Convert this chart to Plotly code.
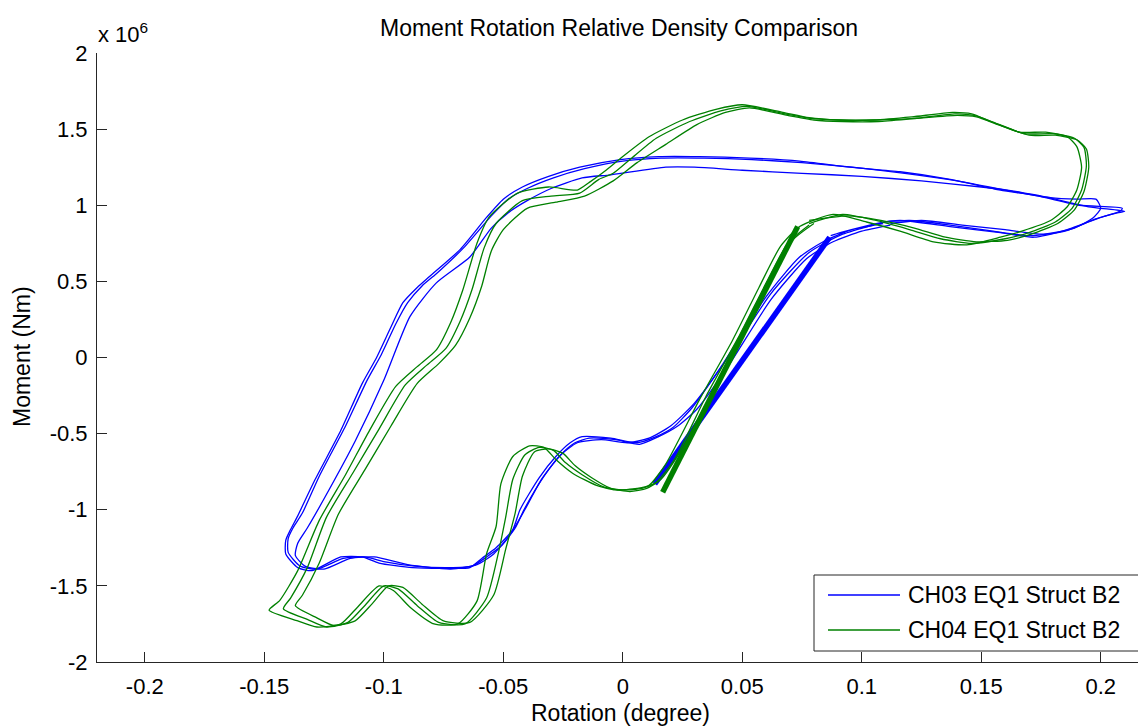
import plotly.graph_objects as go

# Rotation (degree) and moment (x 10^6 Nm) for each recorded loop
ch03_rot_1 = [0.087, 0.091, 0.106, 0.116, 0.137, 0.158, 0.172, 0.186, 0.200, 0.208, 0.209, 0.191, 0.174, 0.158, 0.137, 0.116, 0.095, 0.074, 0.053, 0.032, 0.015, -0.001, -0.018, -0.031, -0.042, -0.050, -0.057, -0.068, -0.081, -0.086, -0.092, -0.097, -0.103, -0.109, -0.118, -0.129, -0.136, -0.139, -0.141, -0.141, -0.136, -0.130, -0.118, -0.109, -0.102, -0.088, -0.074, -0.064, -0.059, -0.053, -0.046, -0.043, -0.035, -0.028, -0.022, -0.017, -0.005, 0.006, 0.014, 0.021, 0.029, 0.042, 0.060, 0.074, 0.085, 0.096, 0.109]
ch03_mom_1 = [0.80, 0.82, 0.88, 0.90, 0.86, 0.82, 0.79, 0.84, 0.92, 0.96, 0.98, 1.00, 1.06, 1.10, 1.17, 1.22, 1.25, 1.29, 1.31, 1.32, 1.32, 1.30, 1.25, 1.19, 1.12, 1.04, 0.92, 0.71, 0.53, 0.46, 0.36, 0.20, 0.00, -0.17, -0.48, -0.81, -1.04, -1.13, -1.20, -1.29, -1.38, -1.40, -1.31, -1.31, -1.35, -1.38, -1.385, -1.38, -1.32, -1.25, -1.13, -1.00, -0.79, -0.65, -0.56, -0.52, -0.53, -0.56, -0.52, -0.46, -0.33, -0.04, 0.40, 0.66, 0.77, 0.84, 0.88]

ch03_rot_2 = [0.109, 0.120, 0.137, 0.155, 0.170, 0.185, 0.198, 0.207, 0.210, 0.195, 0.178, 0.160, 0.140, 0.118, 0.096, 0.075, 0.054, 0.034, 0.016, 0.000, -0.016, -0.029, -0.040, -0.048, -0.055, -0.066, -0.078, -0.084, -0.090, -0.095, -0.101, -0.107, -0.116, -0.127, -0.134, -0.138, -0.140, -0.140, -0.135, -0.128, -0.117, -0.108, -0.100, -0.087, -0.073, -0.063, -0.057, -0.051, -0.045, -0.041, -0.033, -0.026, -0.020, -0.014, -0.003, 0.007, 0.015, 0.023, 0.031, 0.044, 0.062, 0.077, 0.088, 0.100, 0.112]
ch03_mom_2 = [0.89, 0.90, 0.87, 0.83, 0.80, 0.83, 0.91, 0.95, 0.96, 0.99, 1.05, 1.10, 1.16, 1.21, 1.25, 1.28, 1.30, 1.31, 1.31, 1.29, 1.24, 1.18, 1.11, 1.04, 0.93, 0.73, 0.55, 0.47, 0.36, 0.22, 0.02, -0.15, -0.45, -0.78, -1.02, -1.12, -1.19, -1.28, -1.37, -1.39, -1.32, -1.31, -1.34, -1.37, -1.38, -1.37, -1.31, -1.24, -1.12, -0.99, -0.78, -0.64, -0.56, -0.53, -0.54, -0.57, -0.52, -0.45, -0.34, -0.06, 0.38, 0.65, 0.76, 0.83, 0.87]

ch03_rot_3 = [0.112, 0.125, 0.142, 0.160, 0.175, 0.189, 0.197, 0.200, 0.198, 0.190, 0.179, 0.165, 0.150, 0.125, 0.100, 0.075, 0.050, 0.030, 0.018, -0.005, -0.017, -0.030, -0.040, -0.048, -0.055, -0.064, -0.078, -0.089, -0.100, -0.112, -0.124, -0.132, -0.136, -0.137, -0.133, -0.125, -0.114, -0.104, -0.090, -0.072, -0.061, -0.054, -0.047, -0.041, -0.034, -0.026, -0.019, -0.009, 0.002, 0.011, 0.020, 0.030, 0.045, 0.062, 0.078, 0.092, 0.105]
ch03_mom_3 = [0.88, 0.90, 0.87, 0.84, 0.81, 0.85, 0.92, 0.98, 1.04, 1.04, 1.05, 1.09, 1.12, 1.16, 1.19, 1.21, 1.23, 1.25, 1.25, 1.20, 1.18, 1.11, 1.03, 0.95, 0.85, 0.66, 0.49, 0.27, -0.15, -0.55, -0.90, -1.12, -1.22, -1.30, -1.37, -1.39, -1.32, -1.31, -1.36, -1.39, -1.36, -1.29, -1.16, -1.00, -0.80, -0.64, -0.56, -0.54, -0.56, -0.53, -0.45, -0.30, 0.02, 0.42, 0.69, 0.81, 0.87]

ch04_rot_1 = [0.074, 0.088, 0.102, 0.116, 0.130, 0.144, 0.158, 0.167, 0.179, 0.186, 0.190, 0.192, 0.190, 0.186, 0.177, 0.166, 0.154, 0.146, 0.138, 0.121, 0.105, 0.090, 0.078, 0.067, 0.050, 0.039, 0.025, 0.011, 0.000, -0.007, -0.014, -0.019, -0.031, -0.044, -0.056, -0.061, -0.067, -0.072, -0.078, -0.086, -0.095, -0.106, -0.116, -0.127, -0.136, -0.1435, -0.148, -0.136, -0.128, -0.118, -0.111, -0.102, -0.096, -0.089, -0.079, -0.069, -0.061, -0.057, -0.053, -0.051, -0.046, -0.039, -0.033, -0.028, -0.021, -0.011, -0.003, 0.006, 0.011, 0.018, 0.032, 0.046, 0.057, 0.066, 0.074]
ch04_mom_1 = [0.86, 0.94, 0.89, 0.83, 0.76, 0.74, 0.79, 0.83, 0.90, 0.99, 1.10, 1.25, 1.385, 1.45, 1.48, 1.48, 1.55, 1.60, 1.61, 1.58, 1.56, 1.56, 1.575, 1.61, 1.66, 1.63, 1.56, 1.45, 1.32, 1.23, 1.15, 1.10, 1.12, 1.08, 0.92, 0.75, 0.44, 0.23, 0.05, -0.06, -0.19, -0.48, -0.77, -1.07, -1.40, -1.595, -1.66, -1.73, -1.77, -1.75, -1.64, -1.50, -1.53, -1.64, -1.75, -1.75, -1.60, -1.29, -1.11, -0.83, -0.65, -0.58, -0.59, -0.67, -0.76, -0.84, -0.87, -0.86, -0.84, -0.70, -0.28, 0.115, 0.46, 0.73, 0.86]

ch04_rot_2 = [0.078, 0.092, 0.106, 0.120, 0.133, 0.146, 0.160, 0.170, 0.181, 0.188, 0.192, 0.194, 0.193, 0.189, 0.180, 0.168, 0.156, 0.147, 0.139, 0.122, 0.106, 0.091, 0.079, 0.068, 0.052, 0.041, 0.028, 0.014, 0.003, -0.004, -0.010, -0.018, -0.030, -0.042, -0.053, -0.058, -0.063, -0.068, -0.074, -0.082, -0.091, -0.102, -0.113, -0.124, -0.132, -0.139, -0.142, -0.132, -0.124, -0.115, -0.108, -0.100, -0.094, -0.086, -0.077, -0.066, -0.057, -0.052, -0.049, -0.046, -0.041, -0.035, -0.029, -0.024, -0.017, -0.008, 0.000, 0.008, 0.014, 0.022, 0.035, 0.049, 0.060, 0.069, 0.078]
ch04_mom_2 = [0.88, 0.94, 0.90, 0.84, 0.78, 0.75, 0.78, 0.82, 0.89, 0.98, 1.10, 1.26, 1.38, 1.44, 1.47, 1.47, 1.54, 1.59, 1.60, 1.57, 1.56, 1.56, 1.57, 1.60, 1.65, 1.62, 1.55, 1.44, 1.30, 1.21, 1.17, 1.08, 1.06, 1.03, 0.88, 0.72, 0.45, 0.24, 0.06, -0.05, -0.18, -0.47, -0.76, -1.05, -1.38, -1.58, -1.65, -1.72, -1.77, -1.74, -1.63, -1.50, -1.52, -1.63, -1.74, -1.75, -1.58, -1.28, -1.05, -0.80, -0.64, -0.59, -0.61, -0.69, -0.77, -0.85, -0.87, -0.86, -0.82, -0.66, -0.25, 0.15, 0.49, 0.75, 0.87]

ch04_rot_3 = [0.078, 0.094, 0.108, 0.122, 0.135, 0.148, 0.161, 0.171, 0.182, 0.189, 0.193, 0.195, 0.194, 0.190, 0.181, 0.170, 0.157, 0.148, 0.140, 0.123, 0.107, 0.092, 0.080, 0.069, 0.053, 0.043, 0.031, 0.018, 0.006, -0.004, -0.016, -0.028, -0.040, -0.050, -0.055, -0.059, -0.064, -0.070, -0.077, -0.086, -0.097, -0.108, -0.119, -0.127, -0.134, -0.137, -0.128, -0.121, -0.112, -0.105, -0.098, -0.092, -0.084, -0.075, -0.064, -0.054, -0.049, -0.045, -0.042, -0.037, -0.031, -0.025, -0.020, -0.013, -0.005, 0.003, 0.010, 0.016, 0.024, 0.038, 0.051, 0.062, 0.071, 0.080]
ch04_mom_3 = [0.90, 0.93, 0.90, 0.85, 0.79, 0.76, 0.77, 0.81, 0.88, 0.97, 1.09, 1.25, 1.37, 1.43, 1.46, 1.46, 1.53, 1.58, 1.59, 1.57, 1.55, 1.55, 1.56, 1.59, 1.64, 1.61, 1.53, 1.40, 1.28, 1.16, 1.06, 1.02, 0.98, 0.84, 0.70, 0.47, 0.26, 0.08, -0.04, -0.17, -0.45, -0.74, -1.03, -1.35, -1.56, -1.63, -1.71, -1.76, -1.73, -1.62, -1.50, -1.51, -1.62, -1.73, -1.74, -1.56, -1.26, -1.02, -0.78, -0.62, -0.60, -0.63, -0.71, -0.79, -0.86, -0.88, -0.86, -0.80, -0.62, -0.21, 0.19, 0.52, 0.77, 0.88]

# Initial elastic loading segments (densely repeated, drawn heavy)
ch03_init_rot = [0.0134, 0.0866]
ch03_init_mom = [-0.83, 0.79]
ch04_init_rot = [0.0167, 0.0732]
ch04_init_mom = [-0.885, 0.86]

x_ticks = [-0.2, -0.15, -0.1, -0.05, 0, 0.05, 0.1, 0.15, 0.2]
x_tick_text = ["-0.2", "-0.15", "-0.1", "-0.05", "0", "0.05", "0.1", "0.15", "0.2"]
y_ticks = [-2, -1.5, -1, -0.5, 0, 0.5, 1, 1.5, 2]
y_tick_text = ["-2", "-1.5", "-1", "-0.5", "0", "0.5", "1", "1.5", "2"]

BLUE = "#0000ff"
GREEN = "#008000"
AXIS = "#262626"
FONT = "Liberation Sans, Arial, sans-serif"
FS_TICK = 22
FS = 23

fig = go.Figure()

ch03_loops = [(ch03_rot_1, ch03_mom_1), (ch03_rot_2, ch03_mom_2), (ch03_rot_3, ch03_mom_3)]
ch04_loops = [(ch04_rot_1, ch04_mom_1), (ch04_rot_2, ch04_mom_2), (ch04_rot_3, ch04_mom_3)]

for rx, my in ch03_loops:
    fig.add_trace(go.Scatter(x=rx, y=my, mode="lines",
                             line=dict(color=BLUE, width=1.3, shape="spline", smoothing=0.6),
                             hoverinfo="skip"))
fig.add_trace(go.Scatter(x=ch03_init_rot, y=ch03_init_mom, mode="lines",
                         line=dict(color=BLUE, width=5.5), hoverinfo="skip"))

for rx, my in ch04_loops:
    fig.add_trace(go.Scatter(x=rx, y=my, mode="lines",
                             line=dict(color=GREEN, width=1.3, shape="spline", smoothing=0.6),
                             hoverinfo="skip"))
fig.add_trace(go.Scatter(x=ch04_init_rot, y=ch04_init_mom, mode="lines",
                         line=dict(color=GREEN, width=5.5), hoverinfo="skip"))

# plot area in pixels: x 97..1138, y 53..662
L, R, T, B = 97, 1138, 53, 662


def px(xp):
    return (xp - L) / (R - L)


def py(yp):
    return (B - yp) / (B - T)


axis_common = dict(showgrid=False, zeroline=False, showline=True, linecolor=AXIS, linewidth=1,
                   ticks="inside", ticklen=10, tickcolor=AXIS, tickwidth=1,
                   tickfont=dict(family=FONT, size=FS_TICK, color="#000000"), mirror=False)

fig.update_layout(
    width=1138, height=727,
    margin=dict(l=L, r=0, t=T, b=727 - B),
    plot_bgcolor="white", paper_bgcolor="white",
    showlegend=False,
    xaxis=dict(range=[-0.22, 0.2156], tickmode="array", tickvals=x_ticks, ticktext=x_tick_text,
               ticklabelstandoff=5, **axis_common),
    yaxis=dict(range=[-2, 2], tickmode="array", tickvals=y_ticks, ticktext=y_tick_text,
               ticklabelstandoff=4, **axis_common),
)

annotations = [
    dict(text="Moment Rotation Relative Density Comparison", x=px(619), y=py(28),
         xanchor="center", yanchor="middle", font=dict(family=FONT, size=FS, color="#000000")),
    dict(text="x 10<sup>6</sup>", x=px(96), y=py(33), xanchor="left", yanchor="middle",
         font=dict(family=FONT, size=FS_TICK, color="#000000")),
    dict(text="Moment (Nm)", x=px(22), y=py(357), textangle=-90, xanchor="center", yanchor="middle",
         font=dict(family=FONT, size=FS, color="#000000")),
    dict(text="Rotation (degree)", x=px(620), y=py(713), xanchor="center", yanchor="middle",
         font=dict(family=FONT, size=FS, color="#000000")),
    dict(text="CH03 EQ1 Struct B2", x=px(906), y=py(595), xanchor="left", yanchor="middle",
         font=dict(family=FONT, size=FS, color="#000000")),
    dict(text="CH04 EQ1 Struct B2", x=px(906), y=py(630), xanchor="left", yanchor="middle",
         font=dict(family=FONT, size=FS, color="#000000")),
]
for a in annotations:
    a.update(xref="paper", yref="paper", showarrow=False)
fig.update_layout(annotations=annotations)

# legend box and sample lines
fig.add_shape(type="rect", xref="paper", yref="paper", x0=px(814), x1=px(1150), y0=py(651), y1=py(575),
              line=dict(color=AXIS, width=1), fillcolor="white", layer="above")
fig.add_shape(type="line", xref="paper", yref="paper", x0=px(828), x1=px(900), y0=py(595), y1=py(595),
              line=dict(color=BLUE, width=1.3), layer="above")
fig.add_shape(type="line", xref="paper", yref="paper", x0=px(828), x1=px(900), y0=py(630), y1=py(630),
              line=dict(color=GREEN, width=1.3), layer="above")

fig.write_html("out.html")
